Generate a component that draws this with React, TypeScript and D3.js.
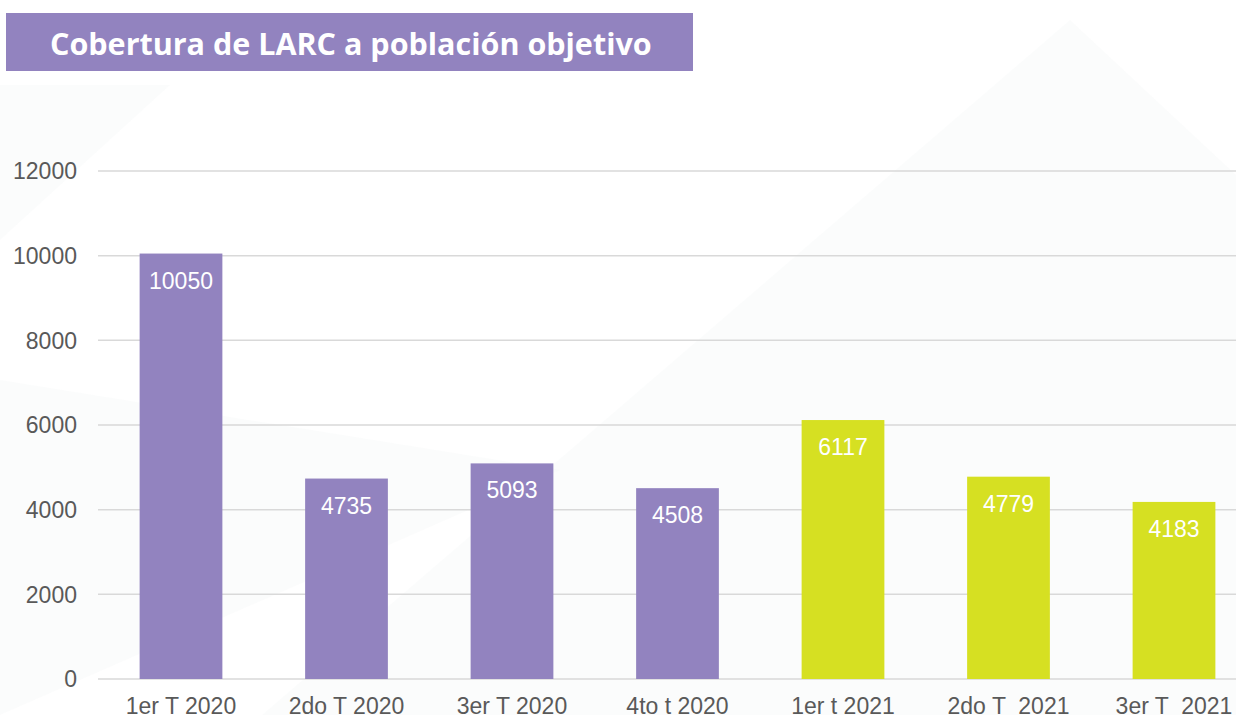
import React from 'react';
import * as d3 from 'd3';

const categories = ['1er T 2020', '2do T 2020', '3er T 2020', '4to t 2020', '1er t 2021', '2do T  2021', '3er T  2021'];
const values = [10050, 4735, 5093, 4508, 6117, 4779, 4183];
const years = ['2020', '2020', '2020', '2020', '2021', '2021', '2021'];
const yTicks = [0, 2000, 4000, 6000, 8000, 10000, 12000];
const title = 'Cobertura de LARC a población objetivo';

const W = 1236;
const H = 715;
const colorByYear: Record<string, string> = { '2020': '#9283bf', '2021': '#d6e022' };

export default function App() {
  const x = d3.scaleBand<string>().domain(categories).range([98.25, 1256.75]).paddingInner(0.5).paddingOuter(0.25);
  const y = d3.scaleLinear().domain([0, 12000]).range([679, 171]);
  const font = 'Liberation Sans, Arial, sans-serif';

  const bg: [number, number][][] = [
    [[1070, 20], [1236, 175], [1236, 715], [262, 715]],
    [[0, 85], [170, 85], [0, 240]],
    [[0, 380], [560, 470], [0, 715]],
  ];

  return (
    <div style={{ position: 'fixed', left: 0, top: 0 }}>
      <svg width={W} height={H} style={{ display: 'block', background: '#ffffff' }}>
        <g>
          {bg.map((p, i) => (
            <polygon key={i} points={p.map(q => q.join(',')).join(' ')} fill="#f3f4f4" opacity={0.3} />
          ))}
        </g>
        <rect x={6} y={13} width={687} height={58} fill="#9283bf" />
        <text x={50} y={55} fill="#ffffff" fontFamily="Open Sans, sans-serif" fontWeight={700} fontSize={30.5}>
          {title}
        </text>
        {yTicks.map(t => (
          <g key={t}>
            <line x1={98} x2={W} y1={y(t)} y2={y(t)} stroke="#d9d9d9" strokeWidth={1.5} />
            <text x={77} y={y(t) + 8.2} textAnchor="end" fontFamily={font} fontSize={23} fill="#595959">
              {t}
            </text>
          </g>
        ))}
        {categories.map((c, i) => {
          const x0 = x(c) as number;
          const bw = x.bandwidth();
          return (
            <g key={c}>
              <rect x={x0} y={y(values[i])} width={bw} height={y(0) - y(values[i])} fill={colorByYear[years[i]]} />
              <text x={x0 + bw / 2} y={y(values[i]) + 35} textAnchor="middle" fontFamily={font} fontSize={23} fill="#ffffff">
                {values[i]}
              </text>
              <text x={x0 + bw / 2} y={714} textAnchor="middle" fontFamily={font} fontSize={23} fill="#595959" style={{ whiteSpace: 'pre' }}>
                {c}
              </text>
            </g>
          );
        })}
      </svg>
    </div>
  );
}
